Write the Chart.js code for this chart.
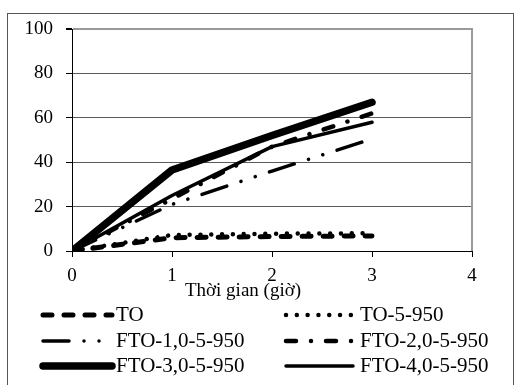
<!DOCTYPE html>
<html>
<head>
<meta charset="utf-8">
<script src="https://cdn.jsdelivr.net/npm/chart.js@4/dist/chart.umd.min.js"></script>
<style>
  html, body { margin: 0; padding: 0; background: #fff; }
  #wrap { width: 515px; height: 385px; }
</style>
</head>
<body>
<div id="wrap"><canvas id="c" width="515" height="385"></canvas></div>
<script>
// Time in hours (x values)
const hours = [0, 1, 2, 3];

// Series values (%)
const seriesTO      = [0, 6, 6.5, 6.8];
const seriesTO5     = [0, 7.2, 7.8, 8];
const seriesFTO1    = [0, 21, 36, 50.5];
const seriesFTO2    = [0, 23.5, 47, 62];
const seriesFTO3    = [0, 36.5, 52, 67];
const seriesFTO4    = [0, 25, 47, 58];

const seriesLabels = ['TO', 'TO-5-950', 'FTO-1,0-5-950', 'FTO-2,0-5-950', 'FTO-3,0-5-950', 'FTO-4,0-5-950'];
const xTicks = [0, 1, 2, 3, 4];
const yTicks = [0, 20, 40, 60, 80, 100];
const xTitle = 'Thời gian (giờ)';

const SERIF = "'Liberation Serif', 'Times New Roman', serif";

function pts(values) {
  return hours.map((h, i) => ({ x: h, y: values[i] }));
}

const styles = [
  { borderWidth: 5,   borderDash: [9, 12] },
  { borderWidth: 4.5, borderDash: [0.01, 10.8] },
  { borderWidth: 3.5, borderDash: [26, 15, 0.01, 15, 0.01, 15] },
  { borderWidth: 4.5, borderDash: [10, 15, 0.01, 15] },
  { borderWidth: 7.5, borderDash: [] },
  { borderWidth: 3.5, borderDash: [] }
];

const allSeries = [seriesTO, seriesTO5, seriesFTO1, seriesFTO2, seriesFTO3, seriesFTO4];

const datasets = allSeries.map((vals, i) => ({
  label: seriesLabels[i],
  data: pts(vals),
  borderColor: '#000',
  backgroundColor: '#000',
  borderWidth: styles[i].borderWidth,
  borderDash: styles[i].borderDash,
  borderCapStyle: 'round',
  borderJoinStyle: 'round',
  pointRadius: 0,
  fill: false,
  tension: 0
}));

// Frame, x-axis title and two-column legend
const decorations = {
  id: 'decorations',
  beforeDraw(chart) {
    const ctx = chart.ctx;
    ctx.save();
    ctx.fillStyle = '#fff';
    ctx.fillRect(0, 0, chart.width, chart.height);
    ctx.restore();
  },
  afterDraw(chart) {
    const ctx = chart.ctx;
    const area = chart.chartArea;
    ctx.save();

    // outer frame
    ctx.strokeStyle = '#555';
    ctx.lineWidth = 1;
    ctx.strokeRect(7.5, 13.5, 506, 420);

    // plot area right edge
    ctx.strokeStyle = '#9a9a9a';
    ctx.lineWidth = 2;
    ctx.beginPath();
    ctx.moveTo(area.right, area.top - 1);
    ctx.lineTo(area.right, area.bottom);
    ctx.stroke();

    // x-axis title
    ctx.fillStyle = '#000';
    ctx.font = '19px ' + SERIF;
    ctx.textAlign = 'center';
    ctx.textBaseline = 'middle';
    ctx.fillText(xTitle, 243, 291);

    // legend
    const cols = [
      { x0: 43, x1: 112, tx: 116 },
      { x0: 286, x1: 353, tx: 360 }
    ];
    const rows = [315, 341, 366];
    ctx.font = '21px ' + SERIF;
    ctx.textAlign = 'left';
    chart.data.datasets.forEach((ds, i) => {
      const col = cols[i % 2];
      const y = rows[Math.floor(i / 2)];
      ctx.save();
      ctx.strokeStyle = '#000';
      ctx.lineWidth = ds.borderWidth;
      ctx.lineCap = 'round';
      ctx.setLineDash(ds.borderDash || []);
      ctx.beginPath();
      ctx.moveTo(col.x0, y);
      ctx.lineTo(col.x1, y);
      ctx.stroke();
      ctx.restore();
      ctx.fillText(ds.label, col.tx, y);
    });
    ctx.restore();
  }
};

new Chart(document.getElementById('c'), {
  type: 'line',
  data: { datasets },
  options: {
    responsive: false,
    animation: false,
    devicePixelRatio: 1,
    layout: { padding: { left: 0, top: 29, right: 43, bottom: 0 } },
    plugins: {
      legend: { display: false },
      tooltip: { enabled: false }
    },
    scales: {
      x: {
        type: 'linear',
        min: xTicks[0],
        max: xTicks[xTicks.length - 1],
        afterBuildTicks(scale) { scale.ticks = xTicks.map(v => ({ value: v })); },
        afterFit(scale) { scale.height = 134; },
        grid: {
          drawOnChartArea: false,
          drawTicks: true,
          tickLength: 6,
          tickColor: '#000',
          color: '#000'
        },
        border: { color: '#000', width: 1 },
        ticks: {
          color: '#000',
          padding: 8,
          maxRotation: 0,
          font: { family: SERIF, size: 19 }
        }
      },
      y: {
        type: 'linear',
        min: yTicks[0],
        max: yTicks[yTicks.length - 1],
        afterBuildTicks(scale) { scale.ticks = yTicks.map(v => ({ value: v })); },
        afterFit(scale) { scale.width = 72; },
        grid: {
          drawTicks: true,
          tickLength: 6,
          tickColor: '#000',
          color(ctx) {
            const v = ctx.tick && ctx.tick.value;
            if (v === 0) return 'rgba(0,0,0,0)';
            if (v === 100) return '#9a9a9a';
            return '#5a5a5a';
          },
          lineWidth(ctx) {
            const v = ctx.tick && ctx.tick.value;
            return v === 100 ? 2 : 1;
          }
        },
        border: { color: '#000', width: 1 },
        ticks: {
          color: '#000',
          padding: 13,
          font: { family: SERIF, size: 19 }
        }
      }
    }
  },
  plugins: [decorations]
});
</script>
</body>
</html>
